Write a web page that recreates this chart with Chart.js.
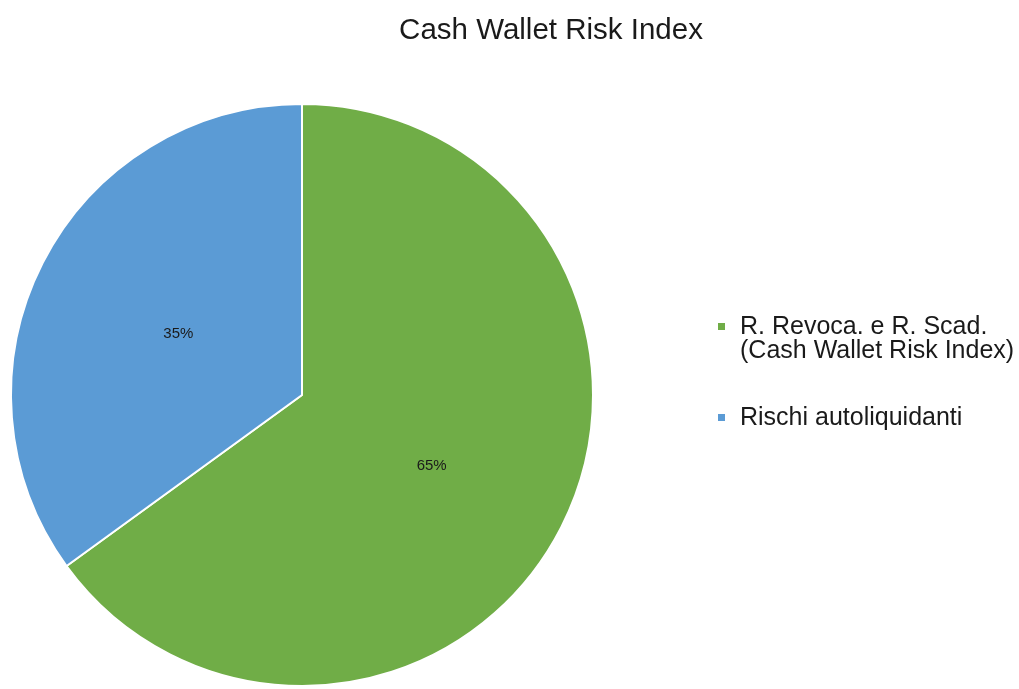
<!DOCTYPE html>
<html>
<head>
<meta charset="utf-8">
<script src="https://cdn.jsdelivr.net/npm/chart.js@4"></script>
<style>
  body { margin: 0; background: #fff; }
  #wrap { width: 1019px; height: 689px; }
</style>
</head>
<body>
<div id="wrap"><canvas id="pie" width="1019" height="689"></canvas></div>
<script>
// dati del grafico
const chartTitle = 'Cash Wallet Risk Index';
const categories = [
    ['R. Revoca. e R. Scad.', '(Cash Wallet Risk Index)'],
    ['Rischi autoliquidanti'],
];
const values = [65, 35];
const colors = ['#70AD47', '#5B9BD5'];

const total = values.reduce((a, b) => a + b, 0);

// titolo, etichette percentuali e legenda disegnati a mano
const extras = {
    id: 'extras',
    afterDraw(chart) {
        const ctx = chart.ctx;
        ctx.save();
        ctx.fillStyle = '#1a1a1a';
        ctx.textBaseline = 'middle';

        ctx.font = '29.5px "Liberation Sans", Arial, sans-serif';
        ctx.textAlign = 'center';
        ctx.fillText(chartTitle, 551, 31);

        ctx.font = '15px "Liberation Sans", Arial, sans-serif';
        const meta = chart.getDatasetMeta(0);
        meta.data.forEach((arc, i) => {
            const p = arc.tooltipPosition();
            ctx.fillText(Math.round(values[i] / total * 100) + '%', p.x + (i ? 6 : 0), p.y + 5);
        });

        ctx.font = '25px "Liberation Sans", Arial, sans-serif';
        ctx.textAlign = 'left';
        let y = 327;
        categories.forEach((lines, i) => {
            ctx.fillStyle = colors[i];
            ctx.fillRect(718, y - 4, 7, 7);
            ctx.fillStyle = '#1a1a1a';
            lines.forEach(line => {
                ctx.fillText(line, 740, y);
                y += 24;
            });
            y += 43;
        });
        ctx.restore();
    }
};

new Chart(document.getElementById('pie').getContext('2d'), {
    type: 'pie',
    data: {
        labels: categories.map(l => l.join(' ')),
        datasets: [{
            data: values,
            backgroundColor: colors,
            borderColor: '#ffffff',
            borderWidth: 2,
        }]
    },
    options: {
        responsive: false,
        animation: false,
        layout: { padding: { left: 10, right: 425, top: 102, bottom: 1 } },
        plugins: {
            legend: { display: false },
            title: { display: false },
            tooltip: { enabled: false },
        }
    },
    plugins: [extras]
});
</script>
</body>
</html>
